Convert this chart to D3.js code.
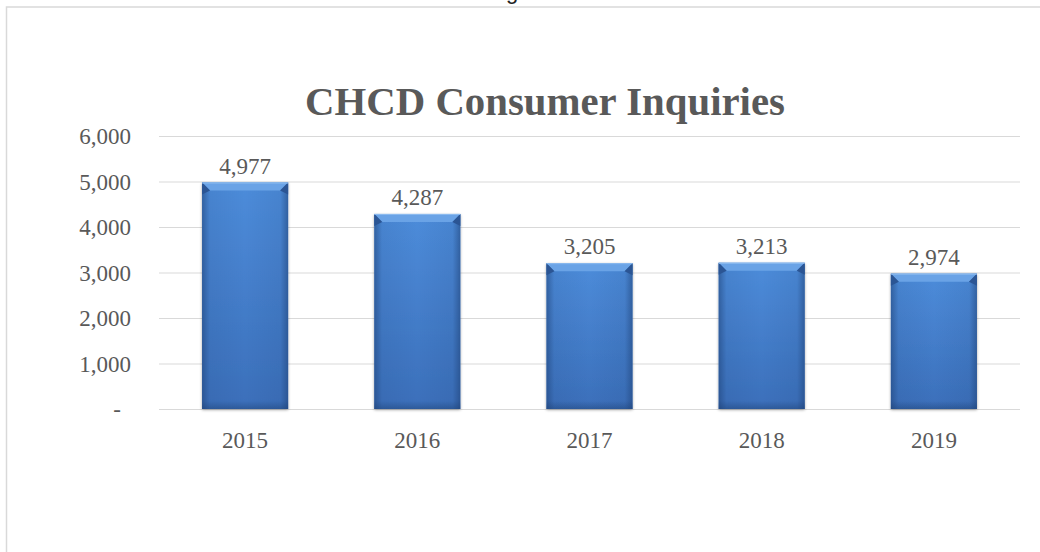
<!DOCTYPE html>
<html><head><meta charset="utf-8">
<script src="https://cdn.jsdelivr.net/npm/d3@7/dist/d3.min.js"></script>
<style>body{margin:0;background:#fff}svg{display:block}</style>
</head><body>
<svg id="c" width="1040" height="552"></svg>
<script>
const categories = ["2015","2016","2017","2018","2019"];
const values = [4977, 4287, 3205, 3213, 2974];
const yTicks = [0,1000,2000,3000,4000,5000,6000];
const title = "CHCD Consumer Inquiries";

const svg = d3.select("#c");
const m = {left:159, right:1020, top:136, bottom:409};
const serif = "'Liberation Serif', 'DejaVu Serif', serif";
const textCol = "#595959";

// frame
svg.append("rect").attr("x",6.5).attr("y",7).attr("width",1060).attr("height",600)
  .attr("fill","#fff").attr("stroke","#d9d9d9").attr("stroke-width",1.5);
// cut-off text above the chart (only its descender is visible)
svg.append("text").attr("x",512).attr("y",-1.5).attr("text-anchor","middle")
  .attr("font-family","'Liberation Sans', sans-serif").attr("font-size",22).attr("fill","#222").text("g");

const x = d3.scaleBand().domain(categories).range([m.left, m.right]).paddingInner(0.5).paddingOuter(0.25);
const y = d3.scaleLinear().domain([0,6000]).range([m.bottom, m.top]);

// gridlines
svg.append("g").selectAll("line").data(yTicks).join("line")
  .attr("x1",m.left).attr("x2",m.right)
  .attr("y1",d=>y(d)+0.5).attr("y2",d=>y(d)+0.5)
  .attr("stroke","#d9d9d9").attr("stroke-width",1);

// y axis labels
const fmt = d3.format(",");
svg.append("g").selectAll("text").data(yTicks).join("text")
  .attr("x",d=> d===0 ? 121 : 131).attr("y",d=>y(d)).attr("dy","0.35em")
  .attr("text-anchor","end").attr("font-family",serif).attr("font-size",23).attr("fill",textCol)
  .text(d=> d===0 ? "-" : fmt(d));

// gradients
const defs = svg.append("defs");
const gv = defs.append("linearGradient").attr("id","gv").attr("x1",0).attr("x2",0).attr("y1",0).attr("y2",1);
gv.append("stop").attr("offset","0%").attr("stop-color","#4d8cda");
gv.append("stop").attr("offset","100%").attr("stop-color","#3b6fba");
const gh = defs.append("linearGradient").attr("id","gh").attr("x1",0).attr("x2",1).attr("y1",0).attr("y2",0);
gh.append("stop").attr("offset","0%").attr("stop-color","#1d3f73").attr("stop-opacity",0.55);
gh.append("stop").attr("offset","9%").attr("stop-color","#1d3f73").attr("stop-opacity",0.1);
gh.append("stop").attr("offset","50%").attr("stop-color","#1d3f73").attr("stop-opacity",0);
gh.append("stop").attr("offset","91%").attr("stop-color","#1d3f73").attr("stop-opacity",0.1);
gh.append("stop").attr("offset","100%").attr("stop-color","#1d3f73").attr("stop-opacity",0.55);
const gb = defs.append("linearGradient").attr("id","gb").attr("x1",0).attr("x2",0).attr("y1",0).attr("y2",1);
gb.append("stop").attr("offset","0%").attr("stop-color","#1d3f73").attr("stop-opacity",0);
gb.append("stop").attr("offset","100%").attr("stop-color","#1d3f73").attr("stop-opacity",0.45);
const filt = defs.append("filter").attr("id","sh").attr("x","-20%").attr("y","-20%").attr("width","140%").attr("height","140%");
filt.append("feGaussianBlur").attr("in","SourceAlpha").attr("stdDeviation",1.5);
filt.append("feOffset").attr("dx",0).attr("dy",1).attr("result","b");
filt.append("feComponentTransfer").append("feFuncA").attr("type","linear").attr("slope",0.35);
const mg = filt.append("feMerge"); mg.append("feMergeNode"); mg.append("feMergeNode").attr("in","SourceGraphic");

const bars = svg.append("g").selectAll("g").data(values).join("g")
  .attr("transform",(d,i)=>`translate(${x(categories[i])},0)`);
const bw = x.bandwidth();
bars.append("rect").attr("x",0).attr("y",d=>y(d)).attr("width",bw).attr("height",d=>m.bottom-y(d))
  .attr("fill","url(#gv)").attr("filter","url(#sh)");
bars.append("rect").attr("x",0).attr("y",d=>y(d)).attr("width",bw).attr("height",d=>m.bottom-y(d))
  .attr("fill","url(#gh)");
bars.append("rect").attr("x",0).attr("y",d=>m.bottom-8).attr("width",bw).attr("height",8)
  .attr("fill","url(#gb)");
// top bevel
const bev = 8;
bars.append("path").attr("d",d=>{const t=y(d);return `M0,${t} L${bw},${t} L${bw-bev},${t+bev} L${bev},${t+bev} Z`;})
  .attr("fill","#6aa3e6");
bars.append("path").attr("d",d=>{const t=y(d);return `M0,${t} L${bev},${t+bev} L0,${t+bev+4} Z`;})
  .attr("fill","#2b5594");
bars.append("path").attr("d",d=>{const t=y(d);return `M${bw},${t} L${bw-bev},${t+bev} L${bw},${t+bev+4} Z`;})
  .attr("fill","#2b5594");
bars.append("line").attr("x1",0).attr("x2",bw).attr("y1",d=>y(d)+0.5).attr("y2",d=>y(d)+0.5)
  .attr("stroke","#8ebcf0").attr("stroke-width",1);

// data labels
svg.append("g").selectAll("text").data(values).join("text")
  .attr("x",(d,i)=>x(categories[i])+bw/2).attr("y",d=>y(d)-17).attr("dy","0.35em")
  .attr("text-anchor","middle").attr("font-family",serif).attr("font-size",23).attr("fill",textCol)
  .text(d=>fmt(d));

// x labels
svg.append("g").selectAll("text").data(categories).join("text")
  .attr("x",d=>x(d)+bw/2).attr("y",440).attr("dy","0.35em")
  .attr("text-anchor","middle").attr("font-family",serif).attr("font-size",23).attr("fill",textCol)
  .text(d=>d);

// title
const t = svg.append("text").attr("x",545).attr("y",115).attr("text-anchor","middle")
  .attr("font-family",serif).attr("font-weight","bold").attr("font-size",44).attr("fill",textCol).text(title);
const tw = t.node().getComputedTextLength();
t.attr("font-size", 44*480/tw);
</script>
</body></html>
